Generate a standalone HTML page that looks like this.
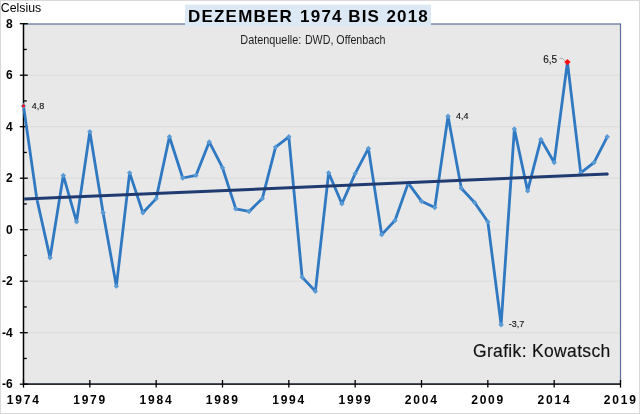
<!DOCTYPE html>
<html><head><meta charset="utf-8"><style>
html,body{margin:0;padding:0;background:#fff;}
body{width:640px;height:414px;overflow:hidden;position:relative;}
svg{position:absolute;left:0;top:0;will-change:transform;}
text{font-family:"Liberation Sans",sans-serif;}
.ax{font-size:12px;font-weight:bold;fill:#000;}
.xl{letter-spacing:1.8px;}
.dl{font-size:9px;fill:#111;stroke:#111;stroke-width:0.12px;}
</style></head><body>
<svg width="640" height="414" viewBox="0 0 640 414">
<rect x="0.5" y="0.5" width="639" height="413" fill="#fff" stroke="#d9d9d9" stroke-width="1"/>
<rect x="23.5" y="24" width="597" height="360" fill="#e8e8e8" stroke="#5d6f98" stroke-width="1.2"/>
<line x1="24" x2="620" y1="332.70" y2="332.70" stroke="#dbdbdb" stroke-width="1"/><line x1="24" x2="620" y1="281.20" y2="281.20" stroke="#dbdbdb" stroke-width="1"/><line x1="24" x2="620" y1="229.70" y2="229.70" stroke="#dbdbdb" stroke-width="1"/><line x1="24" x2="620" y1="178.20" y2="178.20" stroke="#dbdbdb" stroke-width="1"/><line x1="24" x2="620" y1="126.70" y2="126.70" stroke="#dbdbdb" stroke-width="1"/><line x1="24" x2="620" y1="75.20" y2="75.20" stroke="#dbdbdb" stroke-width="1"/>
<line x1="23.5" x2="23.5" y1="23.2" y2="384" stroke="#000" stroke-width="1.4"/>
<line x1="23.5" x2="620.5" y1="384.1" y2="384.1" stroke="#000" stroke-width="1.4"/>
<line x1="19.8" x2="27.8" y1="384.20" y2="384.20" stroke="#000" stroke-width="1.3"/><line x1="23.5" x2="26.8" y1="358.45" y2="358.45" stroke="#000" stroke-width="1.3"/><line x1="19.8" x2="27.8" y1="332.70" y2="332.70" stroke="#000" stroke-width="1.3"/><line x1="23.5" x2="26.8" y1="306.95" y2="306.95" stroke="#000" stroke-width="1.3"/><line x1="19.8" x2="27.8" y1="281.20" y2="281.20" stroke="#000" stroke-width="1.3"/><line x1="23.5" x2="26.8" y1="255.45" y2="255.45" stroke="#000" stroke-width="1.3"/><line x1="19.8" x2="27.8" y1="229.70" y2="229.70" stroke="#000" stroke-width="1.3"/><line x1="23.5" x2="26.8" y1="203.95" y2="203.95" stroke="#000" stroke-width="1.3"/><line x1="19.8" x2="27.8" y1="178.20" y2="178.20" stroke="#000" stroke-width="1.3"/><line x1="23.5" x2="26.8" y1="152.45" y2="152.45" stroke="#000" stroke-width="1.3"/><line x1="19.8" x2="27.8" y1="126.70" y2="126.70" stroke="#000" stroke-width="1.3"/><line x1="23.5" x2="26.8" y1="100.95" y2="100.95" stroke="#000" stroke-width="1.3"/><line x1="19.8" x2="27.8" y1="75.20" y2="75.20" stroke="#000" stroke-width="1.3"/><line x1="23.5" x2="26.8" y1="49.45" y2="49.45" stroke="#000" stroke-width="1.3"/><line x1="19.8" x2="27.8" y1="23.70" y2="23.70" stroke="#000" stroke-width="1.3"/><line x1="23.50" x2="23.50" y1="380.00" y2="387.60" stroke="#000" stroke-width="1.3"/><line x1="89.83" x2="89.83" y1="380.00" y2="387.60" stroke="#000" stroke-width="1.3"/><line x1="156.17" x2="156.17" y1="380.00" y2="387.60" stroke="#000" stroke-width="1.3"/><line x1="222.50" x2="222.50" y1="380.00" y2="387.60" stroke="#000" stroke-width="1.3"/><line x1="288.83" x2="288.83" y1="380.00" y2="387.60" stroke="#000" stroke-width="1.3"/><line x1="355.17" x2="355.17" y1="380.00" y2="387.60" stroke="#000" stroke-width="1.3"/><line x1="421.50" x2="421.50" y1="380.00" y2="387.60" stroke="#000" stroke-width="1.3"/><line x1="487.83" x2="487.83" y1="380.00" y2="387.60" stroke="#000" stroke-width="1.3"/><line x1="554.17" x2="554.17" y1="380.00" y2="387.60" stroke="#000" stroke-width="1.3"/><line x1="620.50" x2="620.50" y1="380.00" y2="387.60" stroke="#000" stroke-width="1.3"/>
<rect x="185" y="4.6" width="246" height="22.2" fill="#dde8f5"/>
<g style="font-size:17px;font-weight:bold;letter-spacing:1.2px;fill:#000"><text x="188" y="22.1">DEZEMBER</text><text x="300.1" y="22.1">1974</text><text x="348.2" y="22.1">BIS</text><text x="386.4" y="22.1">2018</text></g>
<g style="font-size:13.3px;fill:#1e1e1e"><text x="240.3" y="43.9" textLength="61" lengthAdjust="spacingAndGlyphs">Datenquelle:</text><text x="304.9" y="43.9" textLength="80.6" lengthAdjust="spacingAndGlyphs">DWD, Offenbach</text></g>
<text x="0.8" y="11.7" style="font-size:12.3px;fill:#000">Celsius</text>
<text x="12.7" y="388.30" text-anchor="end" class="ax">-6</text><text x="12.7" y="336.80" text-anchor="end" class="ax">-4</text><text x="12.7" y="285.30" text-anchor="end" class="ax">-2</text><text x="12.7" y="233.80" text-anchor="end" class="ax">0</text><text x="12.7" y="182.30" text-anchor="end" class="ax">2</text><text x="12.7" y="130.80" text-anchor="end" class="ax">4</text><text x="12.7" y="79.30" text-anchor="end" class="ax">6</text><text x="12.7" y="27.80" text-anchor="end" class="ax">8</text>
<text x="23.80" y="404.2" text-anchor="middle" class="ax xl">1974</text><text x="90.13" y="404.2" text-anchor="middle" class="ax xl">1979</text><text x="156.47" y="404.2" text-anchor="middle" class="ax xl">1984</text><text x="222.80" y="404.2" text-anchor="middle" class="ax xl">1989</text><text x="289.13" y="404.2" text-anchor="middle" class="ax xl">1994</text><text x="355.47" y="404.2" text-anchor="middle" class="ax xl">1999</text><text x="421.80" y="404.2" text-anchor="middle" class="ax xl">2004</text><text x="488.13" y="404.2" text-anchor="middle" class="ax xl">2009</text><text x="554.47" y="404.2" text-anchor="middle" class="ax xl">2014</text><text x="620.80" y="404.2" text-anchor="middle" class="ax xl">2019</text>
<polyline points="23.50,105.90 36.77,198.60 50.03,257.82 63.30,175.43 76.57,221.78 89.83,131.65 103.10,212.76 116.37,286.15 129.63,172.85 142.90,212.76 156.17,198.60 169.43,136.80 182.70,178.00 195.97,175.43 209.23,141.95 222.50,167.70 235.77,208.90 249.03,211.47 262.30,198.60 275.57,147.10 288.83,136.80 302.10,277.14 315.37,291.30 328.63,172.85 341.90,203.75 355.17,173.62 368.43,148.39 381.70,234.65 394.97,220.49 408.23,183.15 421.50,201.18 434.77,207.61 448.03,116.20 461.30,188.30 474.57,202.46 487.83,221.78 501.10,324.77 514.37,129.07 527.63,190.88 540.90,139.38 554.17,162.55 567.43,62.12 580.70,172.85 593.97,162.55 607.23,136.80" fill="none" stroke="#2f78c2" stroke-width="2.8" stroke-linejoin="round"/>
<path d="M23.50,103.00 L26.40,105.90 L23.50,108.80 L20.60,105.90Z" fill="#7fb0e0"/><circle cx="23.50" cy="105.90" r="1.6" fill="#e8101a"/><path d="M36.77,195.90 L39.47,198.60 L36.77,201.30 L34.07,198.60Z" fill="#5b9bd5"/><path d="M50.03,255.12 L52.73,257.82 L50.03,260.52 L47.33,257.82Z" fill="#5b9bd5"/><path d="M63.30,172.73 L66.00,175.43 L63.30,178.12 L60.60,175.43Z" fill="#5b9bd5"/><path d="M76.57,219.08 L79.27,221.78 L76.57,224.47 L73.87,221.78Z" fill="#5b9bd5"/><path d="M89.83,128.95 L92.53,131.65 L89.83,134.35 L87.13,131.65Z" fill="#5b9bd5"/><path d="M103.10,210.06 L105.80,212.76 L103.10,215.46 L100.40,212.76Z" fill="#5b9bd5"/><path d="M116.37,283.45 L119.07,286.15 L116.37,288.85 L113.67,286.15Z" fill="#5b9bd5"/><path d="M129.63,170.15 L132.33,172.85 L129.63,175.55 L126.93,172.85Z" fill="#5b9bd5"/><path d="M142.90,210.06 L145.60,212.76 L142.90,215.46 L140.20,212.76Z" fill="#5b9bd5"/><path d="M156.17,195.90 L158.87,198.60 L156.17,201.30 L153.47,198.60Z" fill="#5b9bd5"/><path d="M169.43,134.10 L172.13,136.80 L169.43,139.50 L166.73,136.80Z" fill="#5b9bd5"/><path d="M182.70,175.30 L185.40,178.00 L182.70,180.70 L180.00,178.00Z" fill="#5b9bd5"/><path d="M195.97,172.73 L198.67,175.43 L195.97,178.12 L193.27,175.43Z" fill="#5b9bd5"/><path d="M209.23,139.25 L211.93,141.95 L209.23,144.65 L206.53,141.95Z" fill="#5b9bd5"/><path d="M222.50,165.00 L225.20,167.70 L222.50,170.40 L219.80,167.70Z" fill="#5b9bd5"/><path d="M235.77,206.20 L238.47,208.90 L235.77,211.60 L233.07,208.90Z" fill="#5b9bd5"/><path d="M249.03,208.78 L251.73,211.47 L249.03,214.17 L246.33,211.47Z" fill="#5b9bd5"/><path d="M262.30,195.90 L265.00,198.60 L262.30,201.30 L259.60,198.60Z" fill="#5b9bd5"/><path d="M275.57,144.40 L278.27,147.10 L275.57,149.80 L272.87,147.10Z" fill="#5b9bd5"/><path d="M288.83,134.10 L291.53,136.80 L288.83,139.50 L286.13,136.80Z" fill="#5b9bd5"/><path d="M302.10,274.44 L304.80,277.14 L302.10,279.84 L299.40,277.14Z" fill="#5b9bd5"/><path d="M315.37,288.60 L318.07,291.30 L315.37,294.00 L312.67,291.30Z" fill="#5b9bd5"/><path d="M328.63,170.15 L331.33,172.85 L328.63,175.55 L325.93,172.85Z" fill="#5b9bd5"/><path d="M341.90,201.05 L344.60,203.75 L341.90,206.45 L339.20,203.75Z" fill="#5b9bd5"/><path d="M355.17,170.92 L357.87,173.62 L355.17,176.32 L352.47,173.62Z" fill="#5b9bd5"/><path d="M368.43,145.69 L371.13,148.39 L368.43,151.09 L365.73,148.39Z" fill="#5b9bd5"/><path d="M381.70,231.95 L384.40,234.65 L381.70,237.35 L379.00,234.65Z" fill="#5b9bd5"/><path d="M394.97,217.79 L397.67,220.49 L394.97,223.19 L392.27,220.49Z" fill="#5b9bd5"/><path d="M408.23,180.45 L410.93,183.15 L408.23,185.85 L405.53,183.15Z" fill="#5b9bd5"/><path d="M421.50,198.48 L424.20,201.18 L421.50,203.88 L418.80,201.18Z" fill="#5b9bd5"/><path d="M434.77,204.91 L437.47,207.61 L434.77,210.31 L432.07,207.61Z" fill="#5b9bd5"/><path d="M448.03,113.50 L450.73,116.20 L448.03,118.90 L445.33,116.20Z" fill="#5b9bd5"/><path d="M461.30,185.60 L464.00,188.30 L461.30,191.00 L458.60,188.30Z" fill="#5b9bd5"/><path d="M474.57,199.76 L477.27,202.46 L474.57,205.16 L471.87,202.46Z" fill="#5b9bd5"/><path d="M487.83,219.08 L490.53,221.78 L487.83,224.47 L485.13,221.78Z" fill="#5b9bd5"/><path d="M501.10,322.07 L503.80,324.77 L501.10,327.47 L498.40,324.77Z" fill="#5b9bd5"/><path d="M514.37,126.37 L517.07,129.07 L514.37,131.77 L511.67,129.07Z" fill="#5b9bd5"/><path d="M527.63,188.18 L530.33,190.88 L527.63,193.57 L524.93,190.88Z" fill="#5b9bd5"/><path d="M540.90,136.68 L543.60,139.38 L540.90,142.07 L538.20,139.38Z" fill="#5b9bd5"/><path d="M554.17,159.85 L556.87,162.55 L554.17,165.25 L551.47,162.55Z" fill="#5b9bd5"/><path d="M567.43,58.92 L570.63,62.12 L567.43,65.33 L564.23,62.12Z" fill="#ff1010"/><path d="M580.70,170.15 L583.40,172.85 L580.70,175.55 L578.00,172.85Z" fill="#5b9bd5"/><path d="M593.97,159.85 L596.67,162.55 L593.97,165.25 L591.27,162.55Z" fill="#5b9bd5"/><path d="M607.23,134.10 L609.93,136.80 L607.23,139.50 L604.53,136.80Z" fill="#5b9bd5"/>
<line x1="24.20" y1="199.10" x2="607.23" y2="174.10" stroke="#1f3b70" stroke-width="3"/><circle cx="607.23" cy="174.10" r="1.5" fill="#1f3b70"/>
<path d="M559.5,58.2 Q563,58 565,60.5" fill="none" stroke="#a0a0a0" stroke-width="0.8"/>
<text x="31.8" y="109.3" class="dl">4,8</text>
<text x="455.9" y="118.9" class="dl">4,4</text>
<text x="543.2" y="62.9" class="dl" style="font-size:10px">6,5</text>
<text x="508.8" y="327.3" class="dl">-3,7</text>
<text x="473" y="356.5" style="font-size:17.5px;letter-spacing:0.33px;fill:#111;stroke:#111;stroke-width:0.15px">Grafik: Kowatsch</text>
</svg>
</body></html>
